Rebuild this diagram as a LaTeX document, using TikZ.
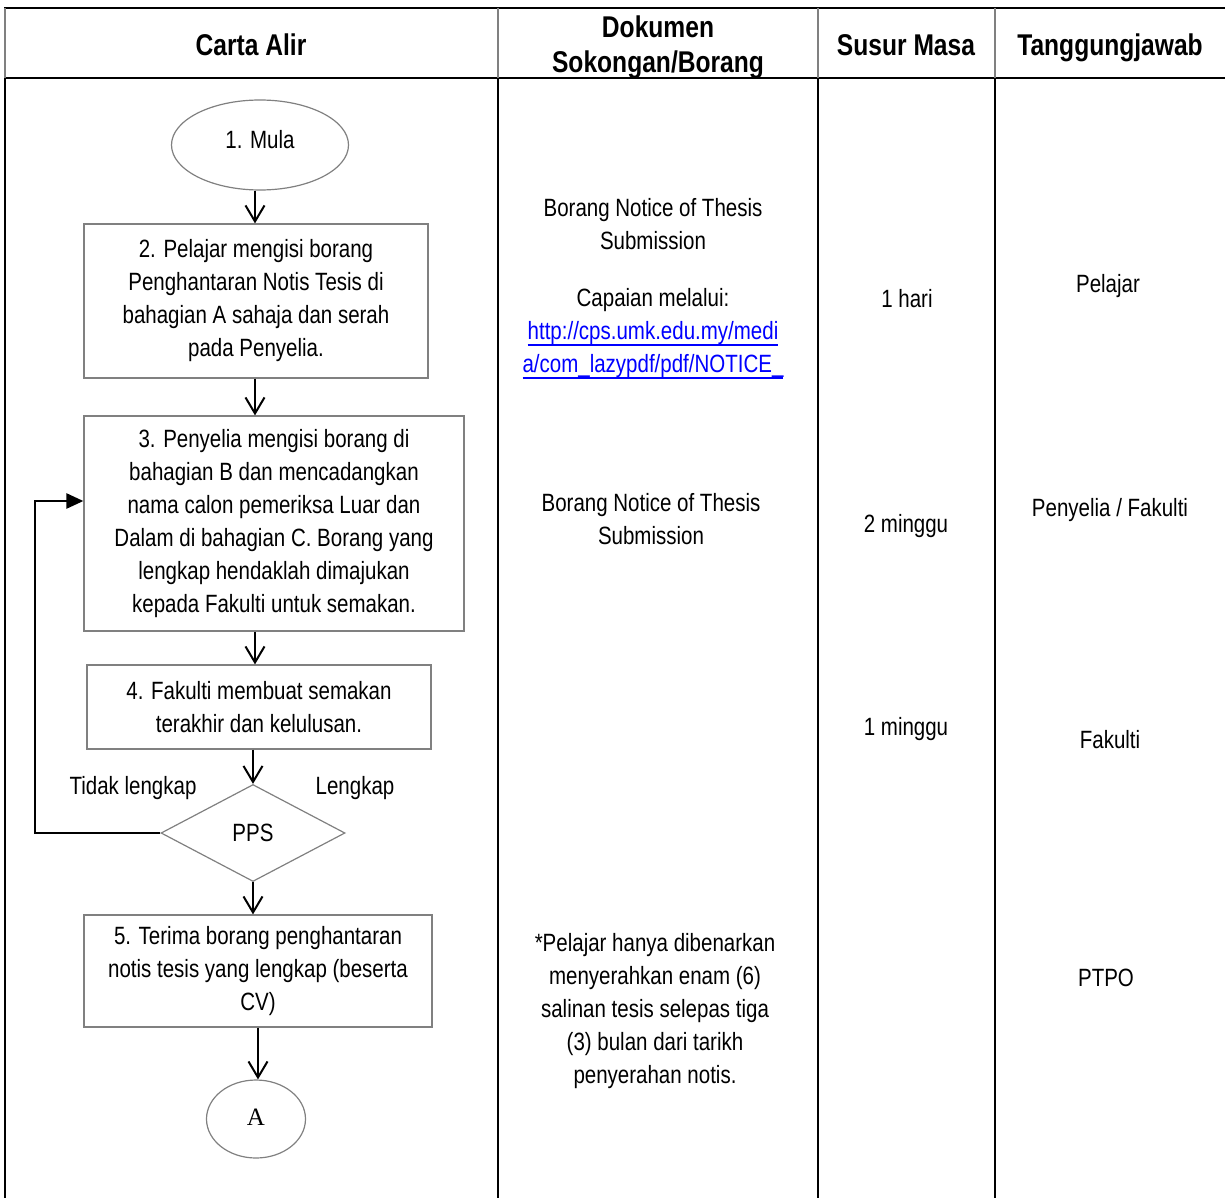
\documentclass[tikz,border=0pt]{standalone}
\usepackage{fontspec}
\setmainfont{Liberation Sans}[FakeStretch=0.82]
\newfontfamily\serifA{Liberation Serif}
\usetikzlibrary{shapes.geometric,arrows.meta}
\newcommand{\ulink}[1]{\setbox0\hbox{#1}\rlap{\rule[-6.5pt]{\wd0}{1.8pt}}\box0}

\begin{document}
\begin{tikzpicture}[x=1pt,y=-1pt,
        every node/.style={inner sep=0pt,align=center,font=\fontsize{25}{33}\selectfont},
        head/.style={font=\fontsize{30}{35}\selectfont\bfseries},
        procbox/.style={draw=gray,line width=1.2pt,rectangle},
        endbox/.style={draw=gray,line width=1.2pt,ellipse},
        flow/.style={line width=2pt,-{Straight Barb[length=16pt,width=19pt]}},
        rule/.style={line width=2.8pt},
        thinrule/.style={line width=1.5pt,gray}]
    \useasboundingbox (0,0) rectangle (1225,1198);
    \draw[rule] (4,8) -- (1225,8);
    \draw[rule] (4,78) -- (1225,78);
    \foreach \x in {5,498,818,995} {
        \draw[thinrule] (\x,8) -- (\x,78);
        \draw[rule] (\x,78) -- (\x,1198);
    }
    \node[head] (hflow) at (251,45) {Carta Alir};
    \node[head] (hdoc) at (658,47) {Dokumen\\Sokongan/Borang};
    \node[head] (htime) at (906,45) {Susur Masa};
    \node[head] (hresp) at (1110,48) {Tanggungjawab};
    \node[endbox,minimum width=177,minimum height=90] (mula) at (260,145) {\raisebox{11pt}{1. Mula}};
    \node[procbox,minimum width=344,minimum height=154] (b2) at (256,301)
        {2. Pelajar mengisi borang\\Penghantaran Notis Tesis di\\bahagian A sahaja dan serah\\pada Penyelia.};
    \node[procbox,minimum width=380,minimum height=215] (b3) at (274,523.5)
        {3. Penyelia mengisi borang di\\bahagian B dan mencadangkan\\nama calon pemeriksa Luar dan\\Dalam di bahagian C. Borang yang\\lengkap hendaklah dimajukan\\kepada Fakulti untuk semakan.};
    \node[procbox,minimum width=344,minimum height=84] (b4) at (259,707)
        {4. Fakulti membuat semakan\\terakhir dan kelulusan.};
    \node[draw=gray,line width=1.2pt,diamond,aspect=1.9,minimum width=184,minimum height=97] (pps) at (253,833) {PPS};
    \node (nolab) at (133,788) {Tidak lengkap};
    \node (yeslab) at (355,788) {Lengkap};
    \node[procbox,minimum width=348,minimum height=112] (b5) at (258,971)
        {5. Terima borang penghantaran\\notis tesis yang lengkap (beserta\\CV)};
    \node[endbox,minimum width=99,minimum height=78] (a) at (256,1119) {\raisebox{4pt}{\serifA A}};
    \coordinate (axis) at (255,0);
    \coordinate (back) at (35,501);
    \draw[flow] (axis |- mula.south) -- (axis |- b2.north);
    \draw[flow] (axis |- b2.south) -- (axis |- b3.north);
    \draw[flow] (axis |- b3.south) -- (axis |- b4.north);
    \draw[flow] (pps.north |- b4.south) -- (pps.north);
    \draw[flow] (pps.south) -- (pps.south |- b5.north);
    \draw[flow] (b5.south) -- (b5.south |- a.north);
    \draw[line width=2.5pt,-{Triangle[length=17pt,width=15pt]}] (pps.west) -| (back) -- (b3.west |- back);
    \node (doc1) at (653,224.5) {Borang Notice of Thesis\\Submission};
    \node (doc2) at (653,333.5) {Capaian melalui:\\
        \textcolor{blue}{\ulink{http://cps.umk.edu.my/medi}}\\
        \textcolor{blue}{\ulink{a/com\_lazypdf/pdf/NOTICE\_}}};
    \node (doc3) at (651,519.5) {Borang Notice of Thesis\\Submission};
    \node (doc4) at (655,1011.5) {*Pelajar hanya dibenarkan\\menyerahkan enam (6)\\salinan tesis selepas tiga\\(3) bulan dari tarikh\\penyerahan notis.};
    \node (t1) at (907,299) {1 hari};
    \node (t2) at (906,526) {2 minggu};
    \node (t3) at (906,729) {1 minggu};
    \node (r1) at (1108,286) {Pelajar};
    \node (r2) at (1110,510) {Penyelia / Fakulti};
    \node (r3) at (1110,740) {Fakulti};
    \node (r4) at (1106,978) {PTPO};
\end{tikzpicture}
\end{document}
